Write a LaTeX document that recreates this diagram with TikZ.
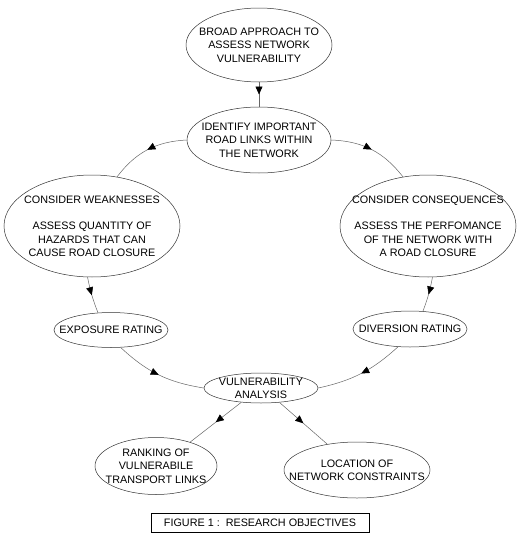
\documentclass[tikz,border=0pt]{standalone}
\usepackage{fontspec}
\setmainfont{Liberation Sans}
\usetikzlibrary{shapes.geometric,arrows.meta,decorations.markings}
\tikzset{
	oval/.style={ellipse, draw=black!80, line width=0.5pt, inner sep=0pt},
	every label/.style={font=\fontsize{10.8}{13.3}\selectfont, align=center, inner sep=0pt},
	link/.style={draw=black!60, line width=0.5pt, postaction={decorate},
		decoration={markings, mark=at position 0.5 with {\arrow{Triangle[length=8pt,width=7pt,color=black]}}}}
}
\begin{document}
\begin{tikzpicture}[x=1pt,y=-1pt]
\useasboundingbox (0,0) rectangle (519,538);
% ellipses, centre at pixel position
\node[oval, minimum width=146, minimum height=74,
	label=center:{BROAD APPROACH TO\\ASSESS NETWORK\\VULNERABILITY}] (broad) at (259,45) {};
\node[oval, minimum width=144, minimum height=66,
	label=center:{IDENTIFY IMPORTANT\\ROAD LINKS WITHIN\\THE NETWORK}] (ident) at (259,140) {};
\node[oval, minimum width=176, minimum height=102,
	label=center:{CONSIDER WEAKNESSES\\[13.3pt]ASSESS QUANTITY OF\\HAZARDS THAT CAN\\CAUSE ROAD CLOSURE}] (weak) at (92,226) {};
\node[oval, minimum width=176, minimum height=102,
	label=center:{CONSIDER CONSEQUENCES\\[13.3pt]ASSESS THE PERFOMANCE\\OF THE NETWORK WITH\\A ROAD CLOSURE}] (cons) at (428,226) {};
\node[oval, minimum width=114, minimum height=35,
	label=center:{EXPOSURE RATING}] (expo) at (111,330) {};
\node[oval, minimum width=114, minimum height=36,
	label=center:{DIVERSION RATING}] (dive) at (410,329) {};
\node[oval, minimum width=114, minimum height=30,
	label=center:{VULNERABILITY\\ANALYSIS}] (vuln) at (261,388) {};
\node[oval, minimum width=122, minimum height=57,
	label=center:{RANKING OF\\VULNERABILE\\TRANSPORT LINKS}] (rank) at (156,466) {};
\node[oval, minimum width=146, minimum height=56,
	label=center:{LOCATION OF\\NETWORK CONSTRAINTS}] (loc) at (357,470) {};
\node[draw, line width=0.6pt, minimum width=218, minimum height=19, inner sep=0pt,
	font=\fontsize{10.8}{13.3}\selectfont] (fig) at (260,523) {FIGURE 1 :\ \ RESEARCH OBJECTIVES};
% links
\draw[link] (broad.south) -- (ident.north);
\draw[link] (ident.west) to[bend right=25] (weak.63);
\draw[link] (ident.east) to[bend left=25] (cons.117);
\draw[link] (weak.265) to[bend right=5] (expo.127);
\draw[link] (cons.275) to[bend left=5] (dive.54);
\draw[link] (expo.-61) to[bend right=17] (vuln.west);
\draw[link] (dive.-124) to[bend left=15] (vuln.east);
\draw[link] (vuln.216) -- (rank.35);
\draw[link] (vuln.-38) -- (loc.139);
\end{tikzpicture}
\end{document}
